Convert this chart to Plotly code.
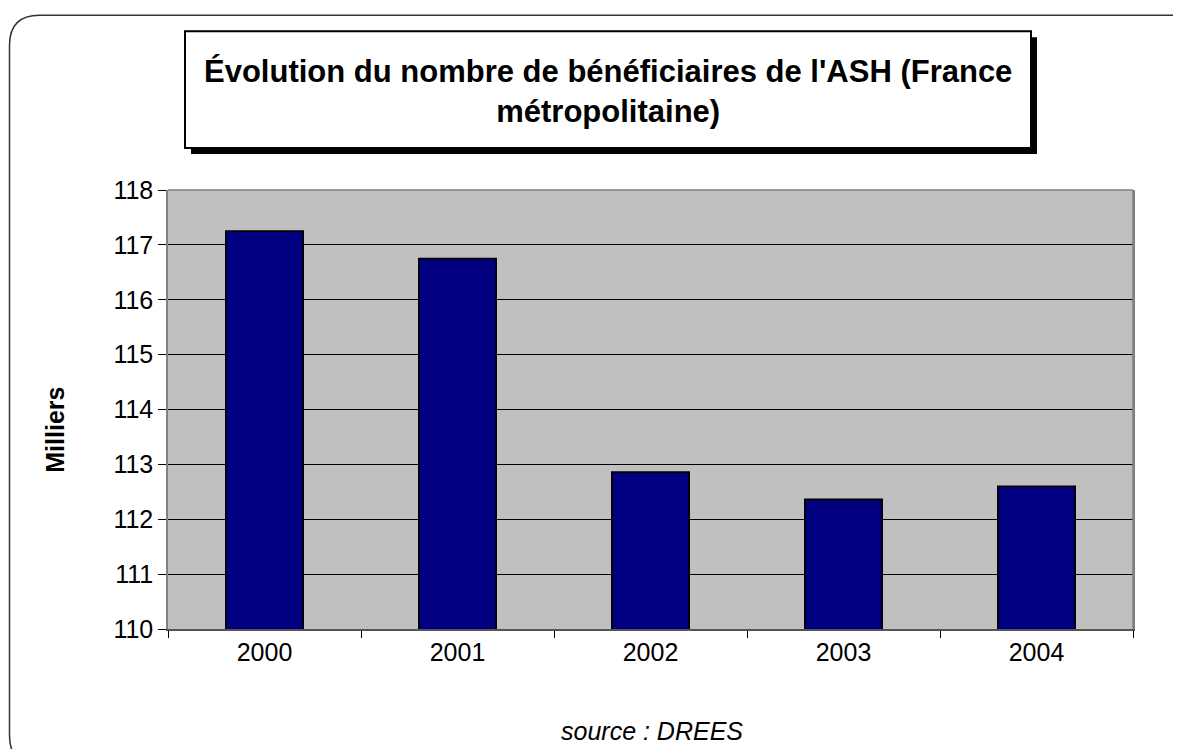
import plotly.graph_objects as go

years = ["2000", "2001", "2002", "2003", "2004"]
values = [117.25, 116.75, 112.86, 112.36, 112.60]
y_ticks = [110, 111, 112, 113, 114, 115, 116, 117, 118]

# page has an 8px body margin: work in screen coords and shift
OFF = 8
W, H = 1181 - OFF, 749 - OFF
SL, SR, ST, SB = 168, 1133, 190, 629.5  # plot area in screen px
L, R, T, B = SL - OFF, SR - OFF, ST - OFF, SB - OFF


def px(x):
    """screen x -> paper x"""
    return (x - SL) / (SR - SL)


def py(y):
    """screen y -> paper y"""
    return (SB - y) / (SB - ST)


FONT = "Liberation Sans, Arial"

fig = go.Figure(go.Bar(
    x=years, y=values,
    marker=dict(color="#000080", line=dict(color="black", width=1.8)),
))

shapes = []
# outer rounded page border
r = 30
x0, y0, x1, y1 = 9.5, 15, 1200, 766
path = (f"M {px(x0)},{py(y0 + r)} "
        f"Q {px(x0)},{py(y0)} {px(x0 + r)},{py(y0)} "
        f"L {px(x1 - r)},{py(y0)} "
        f"Q {px(x1)},{py(y0)} {px(x1)},{py(y0 + r)} "
        f"L {px(x1)},{py(y1 - r)} "
        f"Q {px(x1)},{py(y1)} {px(x1 - r)},{py(y1)} "
        f"L {px(x0 + r)},{py(y1)} "
        f"Q {px(x0)},{py(y1)} {px(x0)},{py(y1 - r)} Z")
shapes.append(dict(type="path", xref="paper", yref="paper", path=path,
                   line=dict(color="#333333", width=1.5), layer="below"))
# title box shadow and box
bx0, by0, bx1, by1 = 185, 31, 1031, 148
shapes.append(dict(type="rect", xref="paper", yref="paper",
                   x0=px(bx0 + 6), x1=px(bx1 + 6), y0=py(by0 + 6), y1=py(by1 + 6),
                   fillcolor="black", line=dict(width=0)))
shapes.append(dict(type="rect", xref="paper", yref="paper",
                   x0=px(bx0), x1=px(bx1), y0=py(by0), y1=py(by1),
                   fillcolor="white", line=dict(color="black", width=2)))
# right/top plot border in gray
shapes.append(dict(type="line", xref="paper", yref="paper", x0=1, x1=1, y0=0, y1=1,
                   line=dict(color="#808080", width=1.5)))
shapes.append(dict(type="line", xref="paper", yref="paper", x0=0, x1=1, y0=1, y1=1,
                   line=dict(color="#808080", width=1.5)))

annotations = [
    dict(text="<b>Évolution du nombre de bénéficiaires de l'ASH (France<br>métropolitaine)</b>",
         xref="paper", yref="paper", x=px((bx0 + bx1) / 2), y=py((by0 + by1) / 2 + 2),
         xanchor="center", yanchor="middle", showarrow=False,
         font=dict(family=FONT, size=31, color="black")),
    dict(text="<i>source : DREES</i>", xref="paper", yref="paper",
         x=px(652), y=py(732), xanchor="center", yanchor="middle", showarrow=False,
         font=dict(family=FONT, size=25, color="black")),
    dict(text="<b>Milliers</b>", xref="paper", yref="paper",
         x=px(55), y=py(430), xanchor="center", yanchor="middle", showarrow=False,
         textangle=-90,
         font=dict(family=FONT, size=25, color="black")),
]

fig.update_layout(
    width=W, height=H,
    margin=dict(l=L, r=W - R, t=T, b=H - B, pad=0),
    paper_bgcolor="white", plot_bgcolor="#C0C0C0",
    bargap=0.6, showlegend=False,
    font=dict(family=FONT, size=25, color="black"),
    shapes=shapes, annotations=annotations,
)
fig.update_xaxes(
    type="category", tickson="boundaries", ticks="outside", ticklen=7,
    tickcolor="black", tickwidth=1, showgrid=False,
    showline=True, linecolor="#555555", linewidth=2, mirror=False,
    tickfont=dict(size=25), fixedrange=True,
)
fig.update_yaxes(
    range=[110, 118], tickvals=y_ticks, ticks="outside", ticklen=8,
    tickcolor="black", tickwidth=1, showgrid=True, gridcolor="black", gridwidth=1,
    showline=True, linecolor="#808080", linewidth=1.5, mirror=True,
    tickfont=dict(size=25), zeroline=False, fixedrange=True,
)

fig.write_html("out.html")
